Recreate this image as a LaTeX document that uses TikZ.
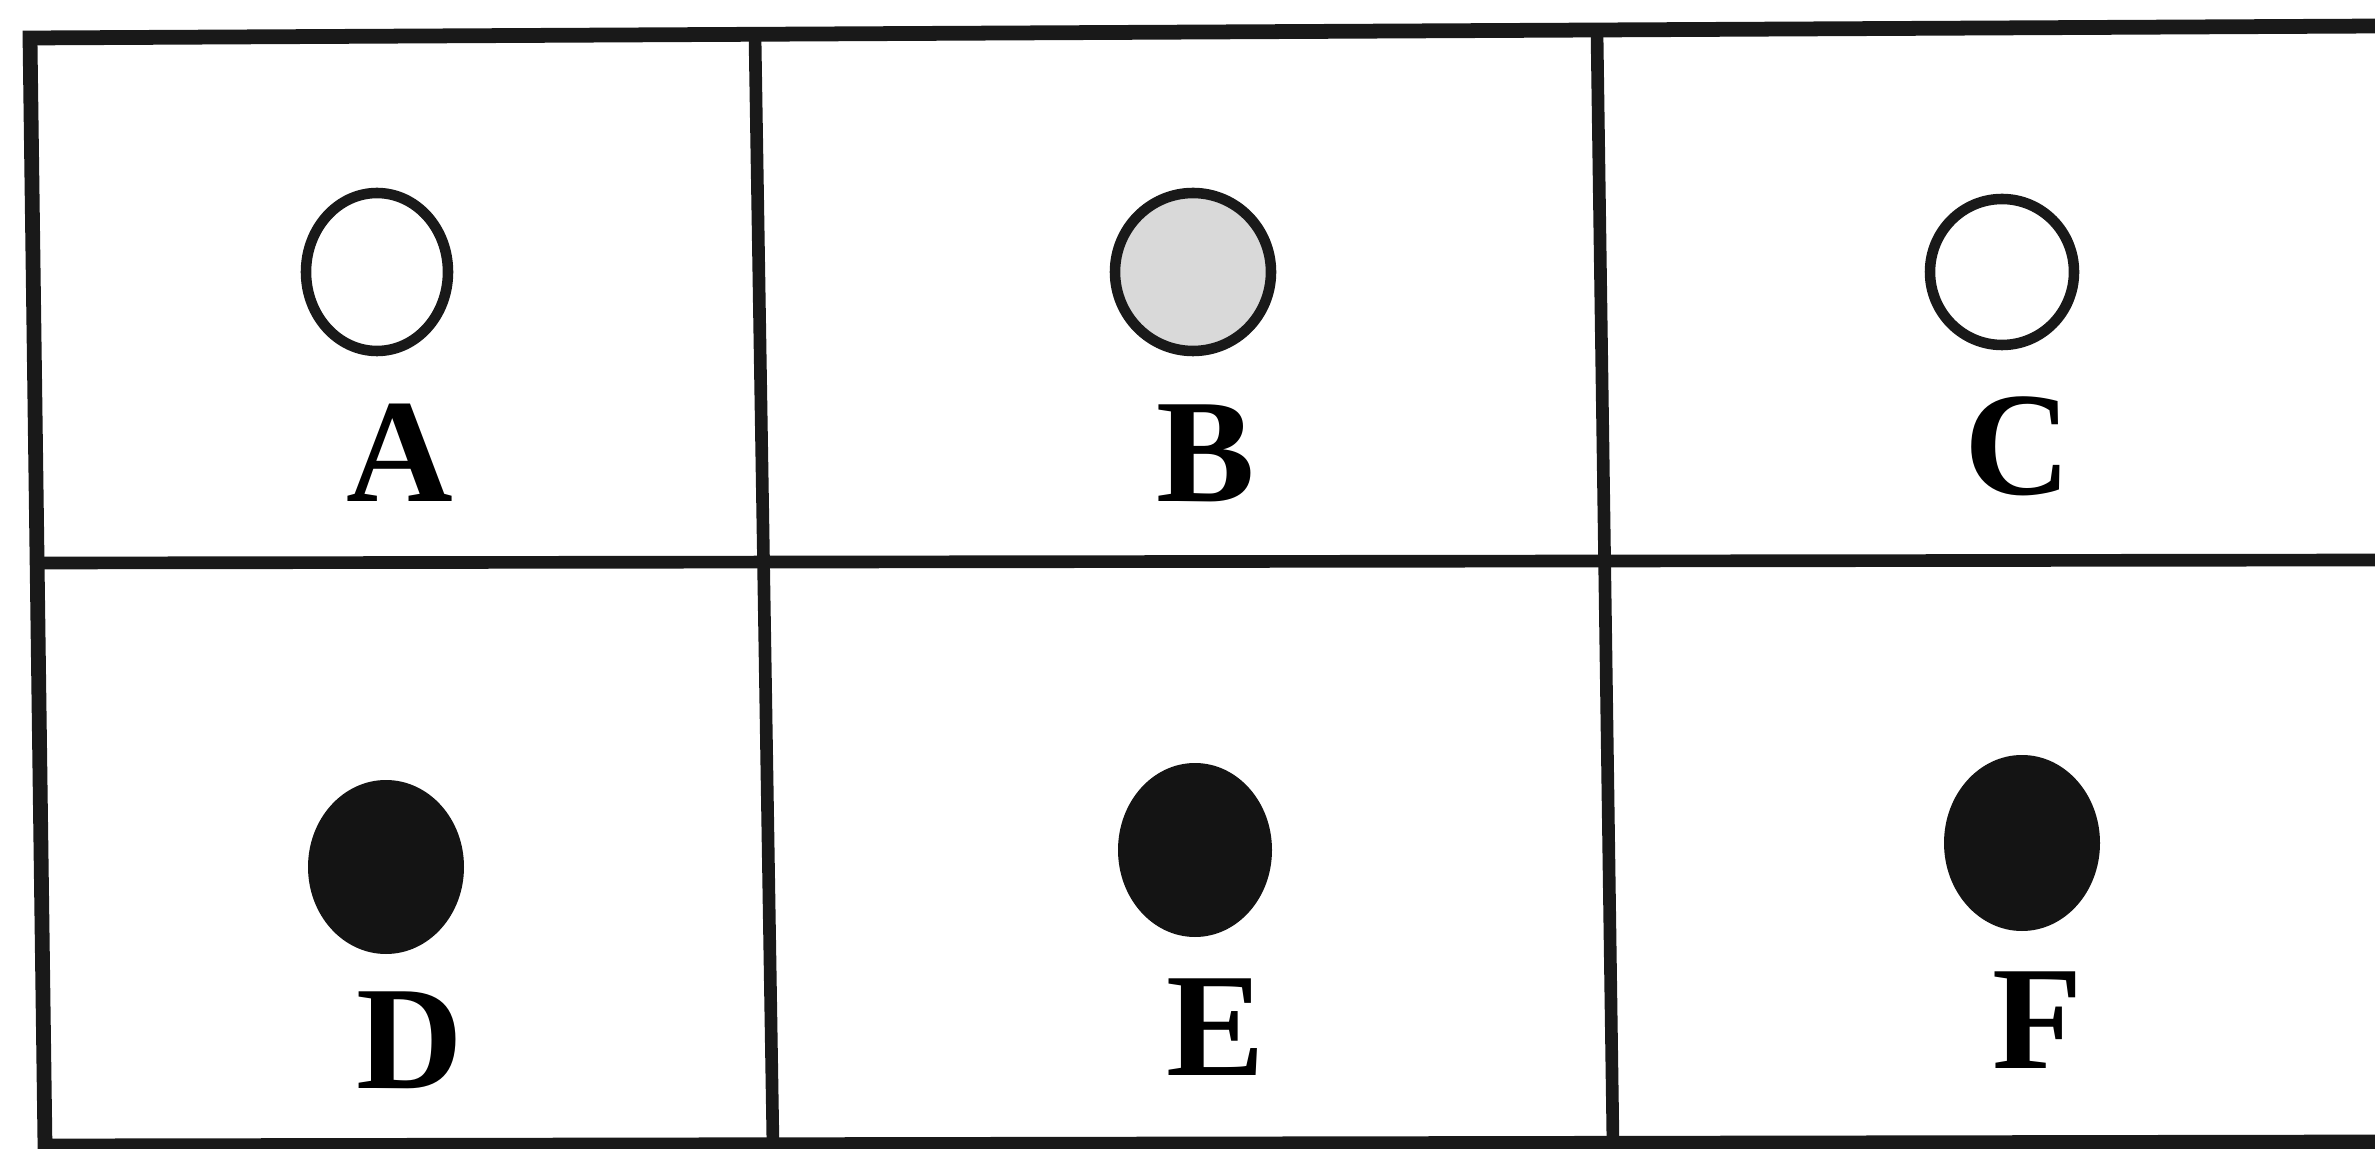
\documentclass[tikz,border=0pt]{standalone}
\usepackage{fontspec}
\setmainfont{Liberation Serif}[BoldFont={Liberation Serif Bold}]
\newfontfamily\lblfont{Liberation Serif Bold}
\begin{document}
\begin{tikzpicture}[x=0.01cm,y=-0.01cm,
  outer/.style={line width=4.2pt,draw=black!90},
  inner/.style={line width=3.6pt,draw=black!90},
  ring/.style={line width=3pt,draw=black!90},
  dot/.style={fill=black!92,draw=none},
  lbl/.style={anchor=base,inner sep=0pt,font=\lblfont\fontsize{42}{42}\selectfont}]
\useasboundingbox[fill=white] (0,0) rectangle (2375,1149);
% grid corners
\coordinate (tl) at (30,38);
\coordinate (tr) at (2380,26);
\coordinate (bl) at (45,1146);
\coordinate (br) at (2380,1142);
\coordinate (ml) at (36,563);
\coordinate (mr) at (2380,560);
\coordinate (v1t) at (755,36);
\coordinate (v1b) at (773,1146);
\coordinate (v2t) at (1597,32);
\coordinate (v2b) at (1613,1144);
\draw[outer] (tr) -- (tl) -- (bl) -- (br);
\draw[inner] (ml) -- (mr);
\draw[inner] (v1t) -- (v1b);
\draw[inner] (v2t) -- (v2b);
% circles
\coordinate (cA) at (377,272);
\coordinate (cB) at (1193,272);
\coordinate (cC) at (2002,272);
\coordinate (cD) at (386,867);
\coordinate (cE) at (1195,850);
\coordinate (cF) at (2022,843);
\draw[ring] (cA) ellipse [x radius=71, y radius=79];
\draw[ring,fill=black!15] (cB) ellipse [x radius=78, y radius=79];
\draw[ring] (cC) ellipse [x radius=72, y radius=73];
\fill[dot] (cD) ellipse [x radius=78, y radius=87];
\fill[dot] (cE) ellipse [x radius=77, y radius=87];
\fill[dot] (cF) ellipse [x radius=78, y radius=88];
% labels
\node[lbl] (A) at (400,502) {A};
\node[lbl] (B) at (1206,502) {B};
\node[lbl] (C) at (2018,495) {C};
\node[lbl] (D) at (410,1088) {D};
\node[lbl] (E) at (1216,1075) {E};
\node[lbl] (F) at (2038,1068) {F};
\end{tikzpicture}
\end{document}
